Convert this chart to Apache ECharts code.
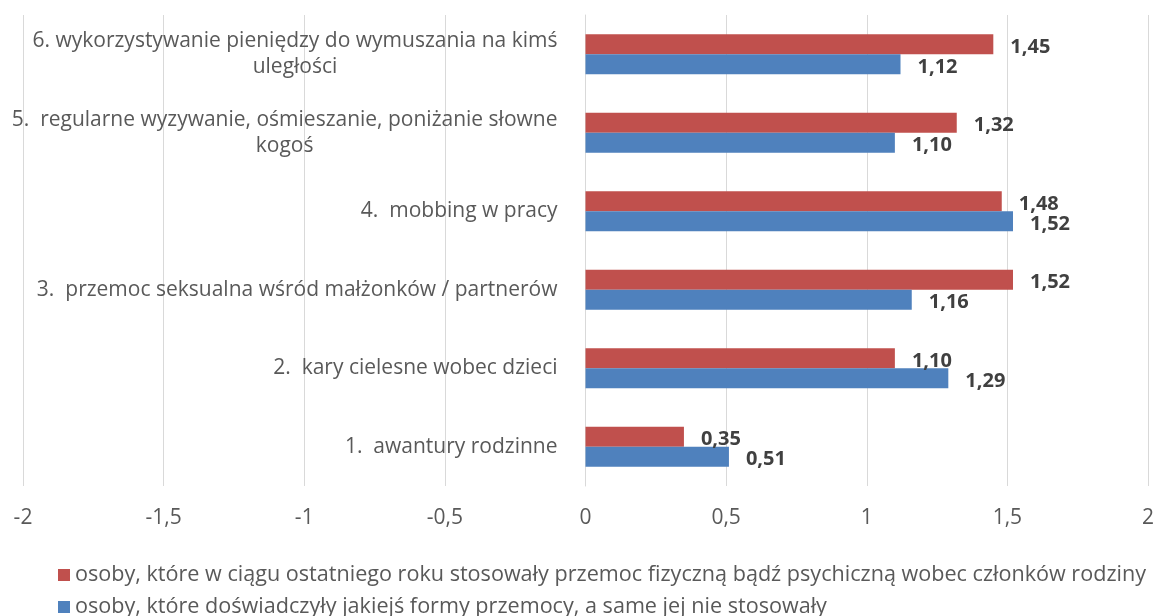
<!DOCTYPE html>
<html><head><meta charset="utf-8">
<script src="https://cdn.jsdelivr.net/npm/echarts@6/dist/echarts.min.js"></script>
<style>html,body{margin:0;padding:0;background:#fff}#c{width:1153px;height:616px}</style>
</head><body><div id="c"></div>
<script>
const categories = [
  ['1.  awantury rodzinne'],
  ['2.  kary cielesne wobec dzieci'],
  ['3.  przemoc seksualna wśród małżonków / partnerów'],
  ['4.  mobbing w pracy'],
  ['5.  regularne wyzywanie, ośmieszanie, poniżanie słowne', 'kogoś'],
  ['6. wykorzystywanie pieniędzy do wymuszania na kimś', 'uległości']
];
const seriesNames = [
  'osoby, które w ciągu ostatniego roku stosowały przemoc fizyczną bądź psychiczną wobec członków rodziny',
  'osoby, które doświadczyły jakiejś formy przemocy, a same jej nie stosowały'
];
const redValues = [0.35, 1.10, 1.52, 1.48, 1.32, 1.45];
const blueValues = [0.51, 1.29, 1.16, 1.52, 1.10, 1.12];
const xMin = -2, xMax = 2, xStep = 0.5;

const W = 1153, gridLeft = 23, gridRight = 5;
const zeroOffset = (W - gridLeft - gridRight) * (0 - xMin) / (xMax - xMin);

const font = '"Open Sans", sans-serif';
const chart = echarts.init(document.getElementById('c'), null, {renderer: 'canvas'});
const fmt = v => v.toFixed(2).replace('.', ',');
const labelStyle = {
  show: true, position: 'right', distance: 17, offset: [0, 3],
  fontFamily: font, fontSize: 20, fontWeight: 'bold', color: '#404040',
  formatter: p => fmt(p.value)
};
const legendText = {fontFamily: font, fontSize: 21.6, color: '#595959'};
chart.setOption({
  animation: false,
  textStyle: {fontFamily: font},
  grid: {left: gridLeft, right: gridRight, top: 15, bottom: 130, outerBoundsMode: 'none', containLabel: false},
  legend: [
    {left: 53, top: 559, itemWidth: 12, itemHeight: 12, icon: 'rect', itemGap: 4,
      textStyle: legendText, data: [seriesNames[0]]},
    {left: 53, top: 591, itemWidth: 12, itemHeight: 12, icon: 'rect', itemGap: 4,
      textStyle: legendText, data: [seriesNames[1]]}
  ],
  xAxis: {
    type: 'value', min: xMin, max: xMax, interval: xStep,
    axisLine: {show: false}, axisTick: {show: false},
    splitLine: {lineStyle: {color: '#D9D9D9', width: 1}},
    axisLabel: {fontFamily: font, fontSize: 21, color: '#595959', margin: 22,
      formatter: v => String(v).replace('.', ',')}
  },
  yAxis: {
    type: 'category', position: 'left', offset: -zeroOffset,
    data: categories.map(c => c.join('\n')),
    axisLine: {show: true, onZero: false, lineStyle: {color: '#D9D9D9'}},
    axisTick: {show: false},
    axisLabel: {
      margin: 28, align: 'right',
      formatter: v => v.split('\n').map(s => '{c|' + s + '}').join('\n'),
      rich: {c: {align: 'center', fontFamily: font, fontSize: 21, color: '#595959', lineHeight: 26}}
    }
  },
  series: [
    {name: seriesNames[0], type: 'bar', data: redValues, barWidth: 20, barGap: '0%',
      itemStyle: {color: '#C0504D'}, label: labelStyle},
    {name: seriesNames[1], type: 'bar', data: blueValues, barWidth: 20, barGap: '0%',
      itemStyle: {color: '#4F81BD'}, label: labelStyle}
  ]
});
</script></body></html>
